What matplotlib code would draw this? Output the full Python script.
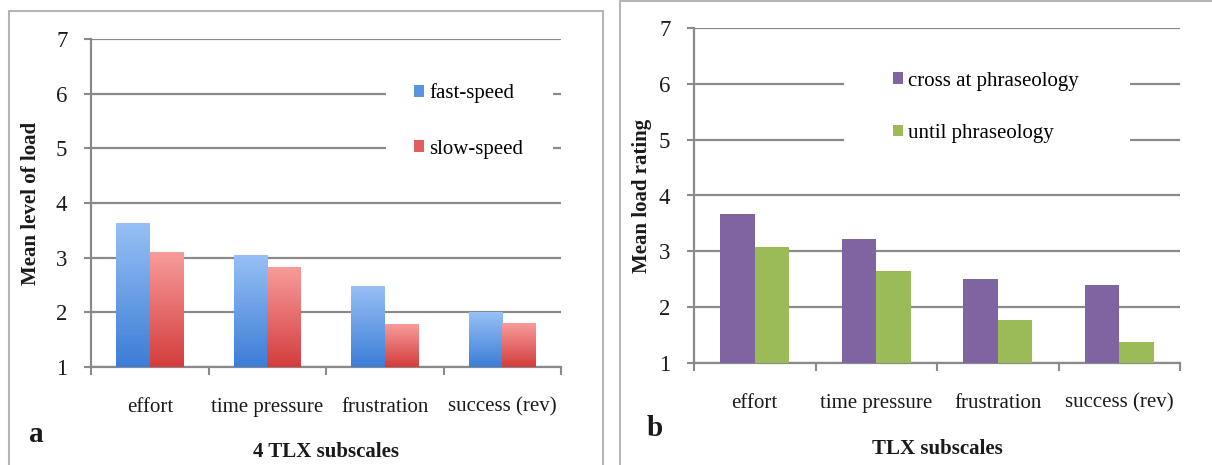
import numpy as np
import matplotlib
matplotlib.use("Agg")
import matplotlib.pyplot as plt
from matplotlib.colors import LinearSegmentedColormap
from matplotlib.patches import Rectangle

categories = ["effort", "time pressure", "frustration", "success (rev)"]

fast_speed = [3.62, 3.04, 2.48, 2.00]
slow_speed = [3.09, 2.82, 1.77, 1.79]

cross_phraseology = [3.66, 3.22, 2.51, 2.40]
until_phraseology = [3.08, 2.65, 1.77, 1.38]

GRID = "#8a8a8a"
TEXT = "#1a1a1a"
FS = 15

plt.rcParams["font.family"] = ["Liberation Serif", "DejaVu Serif"]
plt.rcParams["font.size"] = FS

fig = plt.figure(figsize=(12.12, 4.65), dpi=100)
W, H = 1212.0, 465.0


def px_axes(x0, x1, ytop, ybot):
    return fig.add_axes([x0 / W, 1 - ybot / H, (x1 - x0) / W, (ybot - ytop) / H])


def style_axes(ax):
    n = len(categories)
    ax.set_xlim(-0.5, n - 0.5)
    ax.set_ylim(1, 7)
    ax.set_yticks(range(1, 8))
    ax.set_xticks(np.arange(-0.5, n, 1.0))
    ax.set_xticklabels([])
    ax.set_xticks(np.arange(n), minor=True)
    ax.set_xticklabels(categories, minor=True)
    ax.tick_params(axis="x", which="major", direction="out", length=6, width=1.5, color=GRID)
    ax.tick_params(axis="x", which="minor", length=0, pad=22, labelsize=FS, labelcolor=TEXT)
    ax.tick_params(axis="y", direction="out", length=5, width=1.5, color=GRID,
                   pad=12, labelsize=FS + 1.5, labelcolor=TEXT)
    for s in ("top", "right"):
        ax.spines[s].set_visible(False)
    for s in ("left", "bottom"):
        ax.spines[s].set_color(GRID)
        ax.spines[s].set_linewidth(1.6)
    ax.set_axisbelow(True)
    ax.yaxis.grid(True, color=GRID, linewidth=1.6)
    ax.spines["bottom"].set_zorder(0.5)


def legend_block(ax, handles, labels, rect, anchor, spacing):
    # white backing behind the legend that interrupts the gridlines, as in the source
    ax.add_patch(Rectangle((rect[0], rect[1]), rect[2] - rect[0], rect[3] - rect[1],
                           transform=ax.transAxes, facecolor="white", edgecolor="none",
                           zorder=1))
    ax.legend(handles, labels, loc="upper left", bbox_to_anchor=anchor, frameon=False,
              borderpad=0, borderaxespad=0, handlelength=0.5, handleheight=0.5,
              handletextpad=0.25, labelspacing=spacing, fontsize=FS)


width = 1 / 3.5
x = np.arange(len(categories))

# ---- panel a ----
ax1 = px_axes(91, 561, 39, 367)
style_axes(ax1)
blue = LinearSegmentedColormap.from_list("b", ["#3c7dd6", "#97c0f5"])
red = LinearSegmentedColormap.from_list("r", ["#d33d3c", "#f79c9b"])
grad = np.linspace(0, 1, 256).reshape(-1, 1)
bars_f = ax1.bar(x - width / 2, fast_speed, width, bottom=0, color="#6fa0e6", zorder=2)
bars_s = ax1.bar(x + width / 2, slow_speed, width, bottom=0, color="#e46a69", zorder=2)
for bars, cmap in ((bars_f, blue), (bars_s, red)):
    for p in bars:
        x0, x1 = p.get_x(), p.get_x() + p.get_width()
        ax1.imshow(grad, extent=[x0, x1, 1, p.get_height()], origin="lower", cmap=cmap,
                   aspect="auto", zorder=3)
ax1.set_xlim(-0.5, len(categories) - 0.5)
ax1.set_ylim(1, 7)
ax1.set_ylabel("Mean level of load", fontweight="bold", fontsize=FS, color=TEXT)
ax1.yaxis.set_label_coords(-0.106, 0.5)
ax1.set_xlabel("4 TLX subscales", fontweight="bold", fontsize=FS, color=TEXT)
ax1.xaxis.set_label_coords(0.5, -0.229)
h1 = [Rectangle((0, 0), 1, 1, facecolor="#5a93e2"), Rectangle((0, 0), 1, 1, facecolor="#e25e5d")]
legend_block(ax1, h1, ["fast-speed", "slow-speed"], (0.628, 0.55, 0.983, 0.945),
             (0.687, 0.865), 1.75)

# ---- panel b ----
ax2 = px_axes(694, 1180, 28, 363)
style_axes(ax2)
ax2.bar(x - width / 2, cross_phraseology, width, bottom=0, color="#8064a2", zorder=2)
ax2.bar(x + width / 2, until_phraseology, width, bottom=0, color="#9bbb59", zorder=2)
ax2.set_ylim(1, 7)
ax2.set_ylabel("Mean load rating", fontweight="bold", fontsize=FS, color=TEXT)
ax2.yaxis.set_label_coords(-0.086, 0.5)
ax2.set_xlabel("TLX subscales", fontweight="bold", fontsize=FS, color=TEXT)
ax2.xaxis.set_label_coords(0.5, -0.226)
h2 = [Rectangle((0, 0), 1, 1, facecolor="#8064a2"), Rectangle((0, 0), 1, 1, facecolor="#9bbb59")]
legend_block(ax2, h2, ["cross at phraseology", "until phraseology"], (0.309, 0.53, 0.897, 0.905),
             (0.409, 0.87), 1.6)

# panel frames and letters
fig.patches.append(Rectangle((9 / W, -0.05), (603 - 9) / W, 1.05 - 11 / H,
                             transform=fig.transFigure, facecolor="none",
                             edgecolor="#b5b5b5", linewidth=1.5))
fig.patches.append(Rectangle((620 / W, -0.05), 0.5, 1.05 - 1 / H,
                             transform=fig.transFigure, facecolor="none",
                             edgecolor="#b5b5b5", linewidth=1.5))
fig.text(36 / W, 1 - 434 / H, "a", fontsize=21, fontweight="bold", ha="center", va="center",
         color=TEXT)
fig.text(655 / W, 1 - 428 / H, "b", fontsize=21, fontweight="bold", ha="center", va="center",
         color=TEXT)

fig.savefig("out.png", dpi=100)
